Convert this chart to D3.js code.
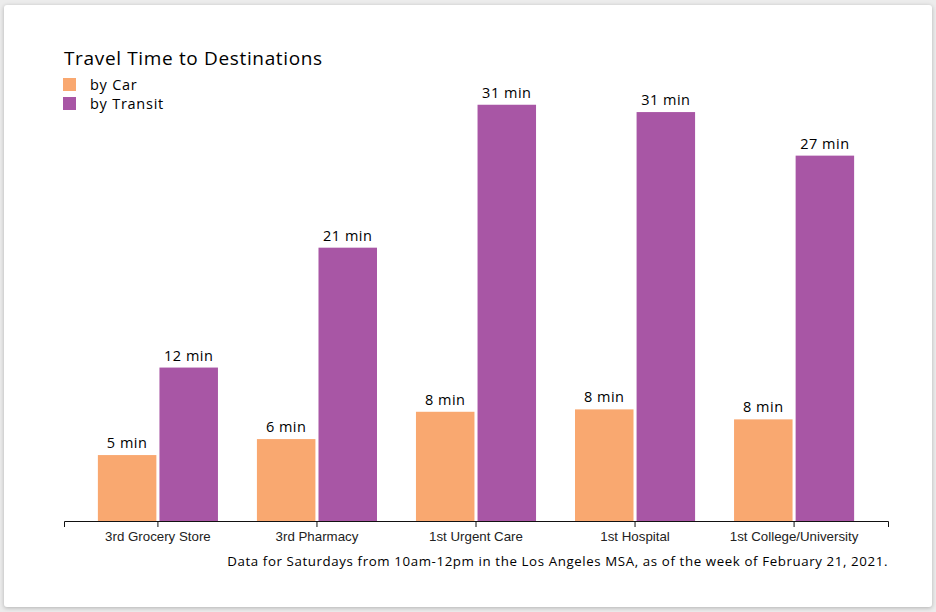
<!DOCTYPE html>
<html>
<head>
<meta charset="utf-8">
<script src="https://cdn.jsdelivr.net/npm/d3@7"></script>
<style>
  html, body { margin: 0; padding: 0; background: #ececec; }
  body { width: 936px; height: 612px; overflow: hidden; }
  #card { position: absolute; left: 4px; top: 5px; width: 928px; height: 602px; background: #fff;
          border-radius: 3px; box-shadow: 0 1px 4px rgba(0,0,0,0.25); }
  svg { position: absolute; left: 0; top: 0; }
</style>
</head>
<body>
<div id="card"></div>
<svg id="chart" width="936" height="612"></svg>
<script>
const categories = ["3rd Grocery Store", "3rd Pharmacy", "1st Urgent Care", "1st Hospital", "1st College/University"];
const seriesNames = ["by Car", "by Transit"];
const carMinutes = [4.95, 6.15, 8.2, 8.38, 7.63];
const transitMinutes = [11.52, 20.52, 31.25, 30.7, 27.43];
const seriesColors = ["#f9a870", "#a856a5"];
const titleText = "Travel Time to Destinations";
const footnoteText = "Data for Saturdays from 10am-12pm in the Los Angeles MSA, as of the week of February 21, 2021.";

const rows = categories.map((c, i) => ({ category: c, values: [carMinutes[i], transitMinutes[i]] }));

const svg = d3.select("#chart");
const left = 64, right = 888, baseline = 521;

const x = d3.scaleBand().domain(categories).range([left, right]).paddingInner(0.245).paddingOuter(0.213);
const xi = d3.scaleBand().domain(seriesNames).range([0, x.bandwidth()]).paddingInner(0.05);
const y = d3.scaleLinear().domain([0, 35]).range([baseline, baseline - 35 * 13.32]);

const labelFont = "'Open Sans', Lato, sans-serif";

// title
svg.append("text").attr("x", 64).attr("y", 65)
  .attr("font-family", labelFont).attr("font-size", 19).attr("letter-spacing", 0.65).attr("fill", "#000")
  .text(titleText);

// legend
const leg = svg.append("g");
seriesNames.forEach((s, i) => {
  const g = leg.append("g").attr("transform", `translate(63, ${78 + i * 19})`);
  g.append("rect").attr("width", 13).attr("height", 13).attr("fill", seriesColors[i]);
  g.append("text").attr("x", 27).attr("y", 11.5)
    .attr("font-family", labelFont).attr("font-size", 14.5).attr("letter-spacing", 0.75)
    .attr("fill", "#000").text(s);
});

// bars
const groups = svg.append("g").selectAll("g").data(rows).join("g")
  .attr("transform", d => `translate(${x(d.category)},0)`);

groups.selectAll("rect").data(d => d.values.map((v, i) => ({ key: seriesNames[i], v, i })))
  .join("rect")
  .attr("x", d => xi(d.key))
  .attr("width", xi.bandwidth())
  .attr("y", d => y(d.v))
  .attr("height", d => y(0) - y(d.v))
  .attr("fill", d => seriesColors[d.i]);

groups.selectAll("text.val").data(d => d.values.map((v, i) => ({ key: seriesNames[i], v, i })))
  .join("text").attr("class", "val")
  .attr("x", d => xi(d.key) + xi.bandwidth() / 2)
  .attr("y", d => y(d.v) - 7)
  .attr("text-anchor", "middle")
  .attr("font-family", labelFont).attr("font-size", 14.5).attr("letter-spacing", 0.5).attr("fill", "#000")
  .text(d => Math.round(d.v) + " min");

// axis
const axis = svg.append("g").attr("transform", `translate(0,${baseline})`)
  .call(d3.axisBottom(x).tickSize(6).tickSizeOuter(6));
axis.selectAll("path, line").attr("stroke", "#111");
axis.selectAll("text").attr("font-family", "'Liberation Sans', Arial, sans-serif")
  .attr("font-size", 13.3).attr("fill", "#222").attr("dy", "0.85em");

// footnote
svg.append("text").attr("x", 888).attr("y", 566).attr("text-anchor", "end")
  .attr("font-family", labelFont).attr("font-size", 13.3).attr("letter-spacing", 0.6).attr("fill", "#000")
  .text(footnoteText);
</script>
</body>
</html>
